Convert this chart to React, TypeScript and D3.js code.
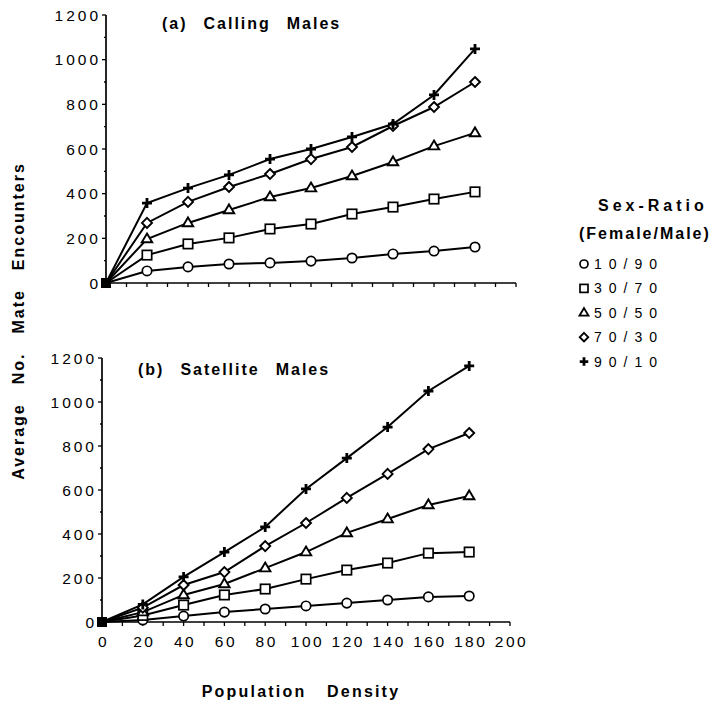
import React from "react";
import * as d3 from "d3";

const density = [0, 20, 40, 60, 80, 100, 120, 140, 160, 180];
const seriesNames = ["10/90", "30/70", "50/50", "70/30", "90/10"];
const symbolKinds = ["circle", "square", "triangle", "diamond", "plus"];

const callingMales = [
  [0, 54, 72, 85, 90, 98, 112, 130, 143, 161],
  [0, 125, 175, 202, 242, 264, 309, 340, 376, 408],
  [0, 197, 269, 327, 385, 425, 479, 542, 613, 672],
  [0, 269, 363, 430, 488, 555, 609, 703, 788, 900],
  [0, 358, 425, 484, 555, 600, 654, 712, 842, 1048],
];

const satelliteMales = [
  [0, 9, 27, 45, 59, 73, 86, 100, 114, 118],
  [0, 30, 77, 123, 150, 195, 236, 268, 313, 318],
  [0, 45, 123, 173, 245, 318, 405, 468, 532, 573],
  [0, 65, 168, 227, 345, 450, 564, 673, 786, 859],
  [0, 80, 205, 318, 432, 605, 745, 886, 1050, 1164],
];

const yTicks = [0, 200, 400, 600, 800, 1000, 1200];
const xTicks = [0, 20, 40, 60, 80, 100, 120, 140, 160, 180, 200];

const FONT = "'Liberation Sans', Arial, Helvetica, sans-serif";

function Marker({ kind, x, y, s = 1 }: { kind: string; x: number; y: number; s?: number }) {
  const common = { fill: "#fff", stroke: "#000", strokeWidth: 1.7 };
  if (kind === "circle") return <circle cx={x} cy={y} r={4.7 * s} {...common} />;
  if (kind === "square")
    return <rect x={x - 4.7 * s} y={y - 4.7 * s} width={9.4 * s} height={9.4 * s} {...common} />;
  if (kind === "triangle") {
    const r = 5.5 * s;
    return (
      <path
        d={`M${x},${y - r} L${x + r * 0.95},${y + r * 0.6} L${x - r * 0.95},${y + r * 0.6} Z`}
        {...common}
        strokeWidth={1.9}
      />
    );
  }
  if (kind === "diamond") {
    const r = 5 * s;
    return <path d={`M${x},${y - r} L${x + r},${y} L${x},${y + r} L${x - r},${y} Z`} {...common} strokeWidth={1.9} />;
  }
  const r = 5 * s;
  return (
    <path d={`M${x - r},${y} L${x + r},${y} M${x},${y - r} L${x},${y + r}`} stroke="#000" strokeWidth={2.8} fill="none" />
  );
}

function Panel({
  data,
  xRange,
  yRange,
  title,
  titleX,
  titleY,
  showXLabels,
}: {
  data: number[][];
  xRange: [number, number];
  yRange: [number, number];
  title: string;
  titleX: number;
  titleY: number;
  showXLabels: boolean;
}) {
  const x = d3.scaleLinear().domain([0, 200]).range(xRange);
  const y = d3.scaleLinear().domain([0, 1200]).range(yRange);
  const line = d3
    .line<number>()
    .x((_, i) => x(density[i]))
    .y((d) => y(d));
  const minorX = d3.range(0, 201, 10);
  const minorY = d3.range(0, 1201, 100);
  return (
    <g>
      <line x1={x(0)} x2={x(0)} y1={y(0)} y2={y(1200)} stroke="#000" strokeWidth={1.7} />
      <line x1={x(0)} x2={x(200)} y1={y(0)} y2={y(0)} stroke="#000" strokeWidth={1.7} />
      {minorY.map((t) => (
        <line key={"my" + t} x1={x(0)} x2={x(0) - (t % 200 === 0 ? 4 : 2)} y1={y(t)} y2={y(t)} stroke="#000" strokeWidth={1.3} />
      ))}
      {minorX.map((t) => (
        <line key={"mx" + t} x1={x(t)} x2={x(t)} y1={y(0)} y2={y(0) + 4} stroke="#000" strokeWidth={1.3} />
      ))}
      {yTicks.map((t) => (
        <text
          key={"yl" + t}
          x={x(0) - 5}
          y={y(t) + 5.5}
          textAnchor="end"
          fontFamily={FONT}
          fontSize={15.5}
          letterSpacing={3}
        >
          {t}
        </text>
      ))}
      {showXLabels &&
        xTicks.map((t) => (
          <text
            key={"xl" + t}
            x={x(t) + 1.5}
            y={y(0) + 25}
            textAnchor="middle"
            fontFamily={FONT}
            fontSize={15.5}
            letterSpacing={2.5}
          >
            {t}
          </text>
        ))}
      <text x={titleX} y={titleY} fontFamily={FONT} fontWeight="bold" fontSize={16} letterSpacing={2} wordSpacing={9.5}>
        {title}
      </text>
      {data.map((s, i) => (
        <path key={"l" + i} d={line(s) || ""} fill="none" stroke="#000" strokeWidth={2} />
      ))}
      {data.map((s, i) =>
        s.map((v, j) =>
          j === 0 ? null : <Marker key={`m${i}-${j}`} kind={symbolKinds[i]} x={x(density[j])} y={y(v)} />
        )
      )}
      <rect x={x(0) - 5} y={y(0) - 5} width={10} height={10} fill="#000" />
    </g>
  );
}

export default function App() {
  return (
    <svg width={713} height={706} style={{ position: "absolute", left: 0, top: 0, background: "#fff" }}>
      <rect width={713} height={706} fill="#fff" />
      <Panel
        data={callingMales}
        xRange={[106, 516]}
        yRange={[283, 15]}
        title="(a) Calling Males"
        titleX={162}
        titleY={29}
        showXLabels={false}
      />
      <Panel
        data={satelliteMales}
        xRange={[102, 510]}
        yRange={[622, 358]}
        title="(b) Satellite Males"
        titleX={138}
        titleY={375}
        showXLabels={true}
      />
      <text
        transform="translate(24,321) rotate(-90)"
        textAnchor="middle"
        fontFamily={FONT}
        fontWeight="bold"
        fontSize={16}
        letterSpacing={2}
        wordSpacing={12.5}
      >
        Average No. Mate Encounters
      </text>
      <text x={301} y={697} textAnchor="middle" fontFamily={FONT} fontWeight="bold" fontSize={16} letterSpacing={2.2} wordSpacing={14}>
        Population Density
      </text>
      <text x={598} y={211} fontFamily={FONT} fontWeight="bold" fontSize={16} letterSpacing={4}>
        Sex-Ratio
      </text>
      <text x={579} y={239} fontFamily={FONT} fontWeight="bold" fontSize={16} letterSpacing={2}>
        (Female/Male)
      </text>
      {seriesNames.map((n, i) => (
        <g key={"lg" + i}>
          <Marker kind={symbolKinds[i]} x={584} y={264 + i * 24.4} s={0.85} />
          <text x={594} y={269 + i * 24.4} fontFamily={FONT} fontSize={14} letterSpacing={7}>
            {n}
          </text>
        </g>
      ))}
    </svg>
  );
}
